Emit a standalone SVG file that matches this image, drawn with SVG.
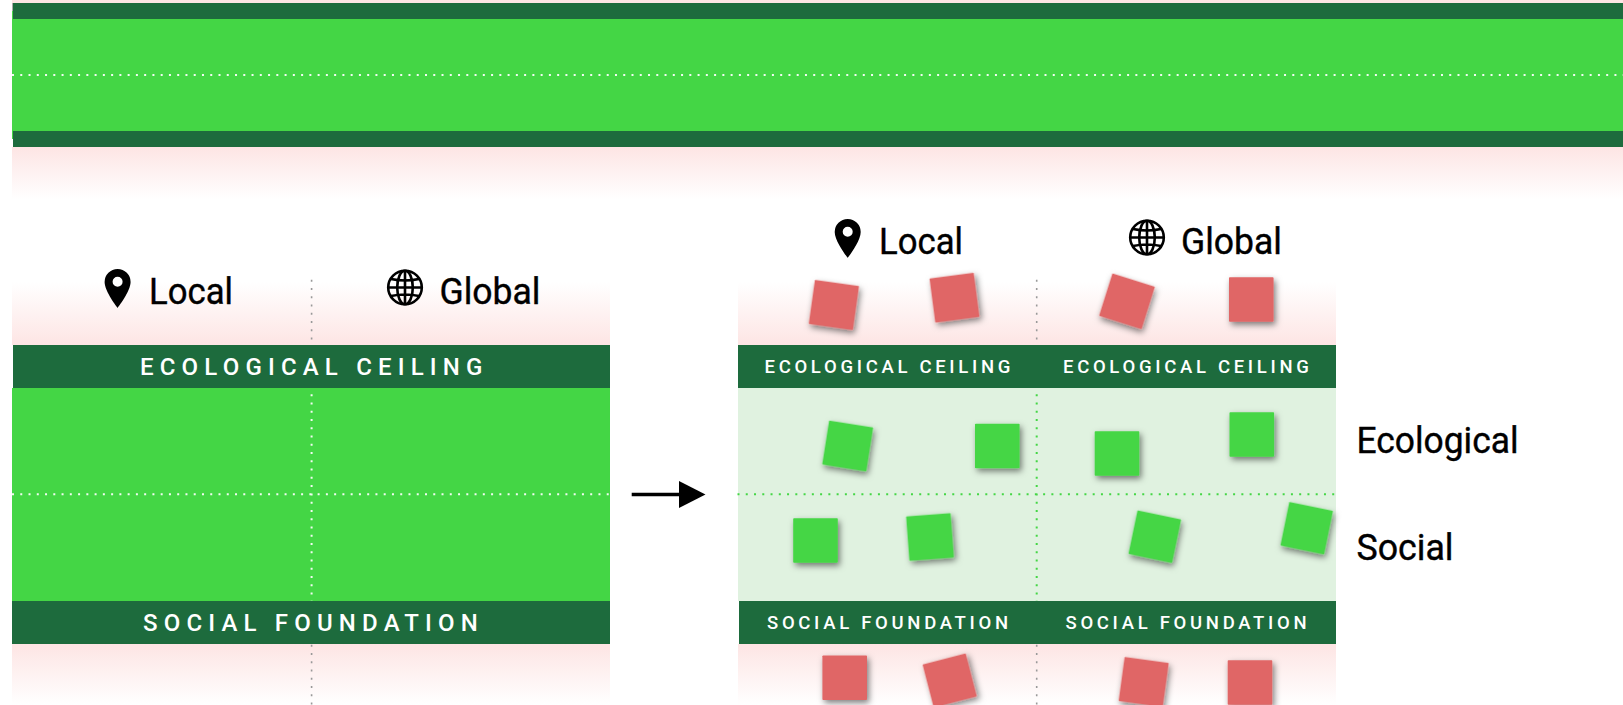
<svg xmlns="http://www.w3.org/2000/svg" xmlns:xlink="http://www.w3.org/1999/xlink" width="1623" height="705" viewBox="0 0 1623 705">
<style>
text{font-family:Roboto,"Liberation Sans",sans-serif}
.dark{fill:#1d6b3d}.green{fill:#44d645}.pale{fill:#e0f2e0}
.red{fill:#e06666;filter:url(#sh)}.grn{fill:#44d645;filter:url(#sh)}
.lbl{font-size:37px;font-weight:400;fill:#000;stroke:#000;stroke-width:0.4px}
.big{font-size:24px;font-weight:500;fill:#fff;letter-spacing:6.18px}
.small{font-size:18.5px;font-weight:500;fill:#fff;letter-spacing:3.7px}
.dw{stroke:#f2fbf2;stroke-width:2;stroke-dasharray:2 6.26;fill:none}
.dg{stroke:#44d645;stroke-width:2;stroke-dasharray:2 6.26;fill:none}
.dk{stroke:#999;stroke-width:1.6;stroke-dasharray:2 6.26;fill:none}
</style>
<defs>
<linearGradient id="up" x1="0" y1="1" x2="0" y2="0"><stop offset="0" stop-color="#fde5e4"/><stop offset="1" stop-color="#fde5e4" stop-opacity="0"/></linearGradient>
<linearGradient id="down" x1="0" y1="0" x2="0" y2="1"><stop offset="0" stop-color="#fde5e4"/><stop offset="1" stop-color="#fde5e4" stop-opacity="0"/></linearGradient>
<filter id="sh" x="-30%" y="-30%" width="170%" height="170%"><feDropShadow dx="2" dy="3" stdDeviation="3" flood-color="#000" flood-opacity="0.5"/></filter>
<marker id="head" markerUnits="userSpaceOnUse" markerWidth="27" markerHeight="27" refX="0" refY="13.5" orient="auto"><path d="M0 0L26.500 13.500L0 27z" fill="#000"/></marker>
<path id="pin" fill-rule="evenodd" d="M0-19.300a13 13 0 0 1 13 13c0 9.500-13 25.900-13 25.900s-13-16.400-13-25.900a13 13 0 0 1 13-13zM0-11.500a5 5 0 1 0 0 10a5 5 0 1 0 0-10z"/>
<g id="globe" fill="none" stroke="#000" stroke-width="2.600"><circle r="16.800"/><ellipse rx="7.800" ry="16.800"/><path d="M0-16.800V16.800M-16.800 0H16.800M-14-8.500Q0-5.500 14-8.500M-14 8.500Q0 5.500 14 8.500"/></g>
<rect id="sq" x="-22.300" y="-22.300" width="44.600" height="44.600" rx="0.800"/>
</defs>

<g id="top-strip">
<rect x="12" y="0" width="1611" height="3" fill="#fde5e4"/>
<rect x="12" y="147" width="1611" height="52" fill="url(#down)"/>
<rect x="12" y="3" width="1" height="8" fill="#aaa"/>
<rect x="12" y="11" width="1611" height="128" class="green"/>
<rect x="13" y="3" width="1610" height="16" class="dark"/>
<rect x="13" y="131" width="1610" height="16" class="dark"/>
<path class="dw" d="M12 75H1623"/>
</g>

<g id="left-panel">
<rect x="12" y="282" width="598" height="63" fill="url(#up)"/>
<rect x="12" y="644" width="598" height="61" fill="url(#down)"/>
<rect x="12" y="388" width="598" height="213" class="green"/>
<path class="dk" d="M311.600 279.700V345M311.600 644.700V705"/>
<path class="dw" d="M311.600 386V601M12 494.300H610"/>
</g>
<g id="left-ceiling"><rect x="13" y="345" width="597" height="43" class="dark"/><text class="big" x="140" y="374.500">ECOLOGICAL CEILING</text></g>
<g id="left-foundation"><rect x="12" y="601" width="598" height="43" class="dark"/><text class="big" x="143" y="631">SOCIAL FOUNDATION</text></g>
<g id="left-local"><use href="#pin" x="117.600" y="288.300"/><text class="lbl" x="149" y="303.500" textLength="84" lengthAdjust="spacingAndGlyphs">Local</text></g>
<g id="left-global"><use href="#globe" x="405" y="287.500"/><text class="lbl" x="439.500" y="303.500" textLength="101" lengthAdjust="spacingAndGlyphs">Global</text></g>

<g id="right-panel">
<rect x="738" y="282" width="598" height="63" fill="url(#up)"/>
<rect x="738" y="644" width="598" height="61" fill="url(#down)"/>
<rect x="738" y="388" width="598" height="213" class="pale"/>
<path class="dk" d="M1036.700 279.700V345M1036.700 644.700V705"/>
<path class="dg" d="M1036.700 386V601M737.500 494.300H1336"/>
</g>
<g id="right-ceiling"><rect x="738" y="345" width="598" height="43" class="dark"/><text class="small" x="764.500" y="372.500">ECOLOGICAL CEILING</text><text class="small" x="1063" y="372.500">ECOLOGICAL CEILING</text></g>
<g id="right-foundation"><rect x="739" y="601" width="597" height="43" class="dark"/><text class="small" x="767" y="628.500">SOCIAL FOUNDATION</text><text class="small" x="1065.500" y="628.500">SOCIAL FOUNDATION</text></g>
<g id="right-local"><use href="#pin" x="847.700" y="238.300"/><text class="lbl" x="879" y="253.500" textLength="84" lengthAdjust="spacingAndGlyphs">Local</text></g>
<g id="right-global"><use href="#globe" x="1147" y="237.500"/><text class="lbl" x="1181" y="253.500" textLength="101" lengthAdjust="spacingAndGlyphs">Global</text></g>
<g id="label-ecological"><text class="lbl" x="1356.500" y="453" textLength="162" lengthAdjust="spacingAndGlyphs">Ecological</text></g>
<g id="label-social"><text class="lbl" x="1356.500" y="560" textLength="97" lengthAdjust="spacingAndGlyphs">Social</text></g>

<g id="card-r1"><use href="#sq" class="red" transform="translate(833.900 305) rotate(8)"/></g>
<g id="card-r2"><use href="#sq" class="red" transform="translate(954.500 297.700) rotate(-7.500)"/></g>
<g id="card-r3"><use href="#sq" class="red" transform="translate(1127 301.300) rotate(17.500)"/></g>
<g id="card-r4"><use href="#sq" class="red" transform="translate(1251.300 299.500)"/></g>
<g id="card-g1"><use href="#sq" class="grn" transform="translate(847.700 446) rotate(9)"/></g>
<g id="card-g2"><use href="#sq" class="grn" transform="translate(997.300 446)"/></g>
<g id="card-g3"><use href="#sq" class="grn" transform="translate(815.500 540.500)"/></g>
<g id="card-g4"><use href="#sq" class="grn" transform="translate(930 537) rotate(-4.300)"/></g>
<g id="card-g5"><use href="#sq" class="grn" transform="translate(1117 453.500)"/></g>
<g id="card-g6"><use href="#sq" class="grn" transform="translate(1251.800 434.500)"/></g>
<g id="card-g7"><use href="#sq" class="grn" transform="translate(1154.800 536.700) rotate(11.800)"/></g>
<g id="card-g8"><use href="#sq" class="grn" transform="translate(1306.700 528.200) rotate(11.600)"/></g>
<g id="card-r5"><use href="#sq" class="red" transform="translate(844.700 677.800)"/></g>
<g id="card-r6"><use href="#sq" class="red" transform="translate(949.700 680.500) rotate(-14.500)"/></g>
<g id="card-r7"><use href="#sq" class="red" transform="translate(1143.700 682) rotate(7.800)"/></g>
<g id="card-r8"><use href="#sq" class="red" transform="translate(1250 682.500)"/></g>

<g id="connectors"><line x1="631.700" y1="494.500" x2="679" y2="494.500" stroke="#000" stroke-width="3.500" marker-end="url(#head)"/></g>
</svg>
